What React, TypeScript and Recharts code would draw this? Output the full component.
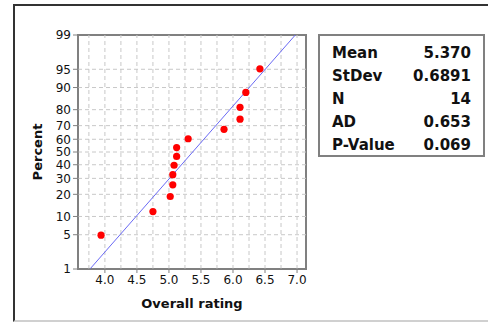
import {
  ScatterChart,
  Scatter,
  XAxis,
  YAxis,
  ReferenceLine,
  ReferenceArea,
} from "recharts";

// observed ratings (sorted) and their plotted percent positions
const ratings = [3.94, 4.75, 5.02, 5.06, 5.06, 5.08, 5.12, 5.12, 5.3, 5.86, 6.11, 6.11, 6.2, 6.42];
const percents = [4.9, 11.8, 18.8, 25.7, 32.6, 39.6, 46.5, 53.5, 60.4, 67.4, 74.3, 81.3, 88.2, 95.1];

const xTicks = [4.0, 4.5, 5.0, 5.5, 6.0, 6.5, 7.0];
const xGrid = [3.75, 4, 4.25, 4.5, 4.75, 5, 5.25, 5.5, 5.75, 6, 6.25, 6.5, 6.75, 7];
const pctTicks = [1, 5, 10, 20, 30, 40, 50, 60, 70, 80, 90, 95, 99];

const statLabels = ["Mean", "StDev", "N", "AD", "P-Value"];
const statValues = ["5.370", "0.6891", "14", "0.653", "0.069"];
const mean = 5.37;
const stdev = 0.6891;

// inverse normal cdf (Acklam)
const probit = (p: number) => {
  const a = [-3.969683028665376e1, 2.209460984245205e2, -2.759285104469687e2, 1.38357751867269e2, -3.066479806614716e1, 2.506628277459239];
  const b = [-5.447609879822406e1, 1.615858368580409e2, -1.556989798598866e2, 6.680131188771972e1, -1.328068155288572e1];
  const c = [-7.784894002430293e-3, -3.223964580411365e-1, -2.400758277161838, -2.549732539343734, 4.374664141464968, 2.938163982698783];
  const d = [7.784695709041462e-3, 3.224671290700398e-1, 2.445134137142996, 3.754408661907416];
  const tail = (q: number) =>
    (((((c[0] * q + c[1]) * q + c[2]) * q + c[3]) * q + c[4]) * q + c[5]) /
    ((((d[0] * q + d[1]) * q + d[2]) * q + d[3]) * q + 1);
  if (p < 0.02425) return tail(Math.sqrt(-2 * Math.log(p)));
  if (p > 1 - 0.02425) return -tail(Math.sqrt(-2 * Math.log(1 - p)));
  const q = p - 0.5;
  const r = q * q;
  return (
    ((((((a[0] * r + a[1]) * r + a[2]) * r + a[3]) * r + a[4]) * r + a[5]) * q) /
    (((((b[0] * r + b[1]) * r + b[2]) * r + b[3]) * r + b[4]) * r + 1)
  );
};

const data = ratings.map((x, i) => ({ x, z: probit(percents[i] / 100) }));
const zTicks = pctTicks.map((p) => probit(p / 100));
const zMin = zTicks[0];
const zMax = zTicks[zTicks.length - 1];
const xMin = 3.58;
const xMax = 7.14;

const pctLabel = (z: number) => {
  let best = 0;
  zTicks.forEach((t, i) => {
    if (Math.abs(t - z) < Math.abs(zTicks[best] - z)) best = i;
  });
  return String(pctTicks[best]);
};

const font = "'DejaVu Sans', Verdana, sans-serif";
const tickStyle = { fontSize: 12, fill: "#111", fontFamily: font };

// eslint-disable-next-line @typescript-eslint/no-explicit-any
const Dot = (props: any) => <circle cx={props.cx} cy={props.cy} r={3.6} fill="#ff0000" />;

export default function App() {
  return (
    <div style={{ position: "absolute", left: 0, top: 0, width: 488, height: 325, background: "#fff", fontFamily: font }}>
      <div style={{ position: "absolute", left: 13, top: 4, width: 475, height: 318, borderLeft: "2px solid #333", borderTop: "2px solid #333", borderBottom: "2px solid #d0d0d0", boxSizing: "border-box" }} />
      <ScatterChart width={488} height={325} margin={{ top: 35, right: 182, left: 18, bottom: 26 }} style={{ position: "absolute", left: 0, top: 0 }}>
        <XAxis
          type="number"
          dataKey="x"
          domain={[xMin, xMax]}
          ticks={xTicks}
          interval={0}
          tickFormatter={(v: number) => v.toFixed(1)}
          tick={tickStyle}
          tickSize={4}
          height={30}
          stroke="#808080"
          allowDataOverflow
          label={{ value: "Overall rating", position: "bottom", offset: 0, style: { fontSize: 13, fontWeight: "bold", fill: "#111", fontFamily: font } }}
        />
        <YAxis
          type="number"
          dataKey="z"
          domain={[zMin, zMax]}
          ticks={zTicks}
          interval={0}
          tickFormatter={pctLabel}
          tick={tickStyle}
          tickSize={5}
          width={60}
          stroke="#808080"
          allowDataOverflow
          label={{ value: "Percent", angle: -90, position: "insideLeft", offset: 19, style: { fontSize: 13, fontWeight: "bold", fill: "#111", fontFamily: font, textAnchor: "middle" } }}
        />
        {xGrid.map((v) => (
          <ReferenceLine key={"vx" + v} x={v} stroke="#c8c8c8" strokeDasharray="4 3" />
        ))}
        {zTicks.slice(1, -1).map((v, i) => (
          <ReferenceLine key={"hz" + i} y={v} stroke="#c8c8c8" strokeDasharray="4 3" />
        ))}
        <ReferenceArea x1={xMin} x2={xMax} y1={zMin} y2={zMax} fill="none" stroke="#808080" strokeWidth={2} />
        <ReferenceLine
          segment={[
            { x: mean + zMin * stdev, y: zMin },
            { x: mean + zMax * stdev, y: zMax },
          ]}
          stroke="#6a6af5"
          strokeWidth={1}
        />
        <Scatter data={data} shape={<Dot />} isAnimationActive={false} />
      </ScatterChart>
      <div style={{ position: "absolute", left: 318, top: 34, width: 167, height: 123, border: "2px solid #808080", boxSizing: "border-box", padding: "6px 12px 0 12px" }}>
        {statLabels.map((l, i) => (
          <div key={l} style={{ display: "flex", justifyContent: "space-between", fontSize: 15, fontWeight: "bold", lineHeight: "23px", color: "#111" }}>
            <span>{l}</span>
            <span>{statValues[i]}</span>
          </div>
        ))}
      </div>
    </div>
  );
}
